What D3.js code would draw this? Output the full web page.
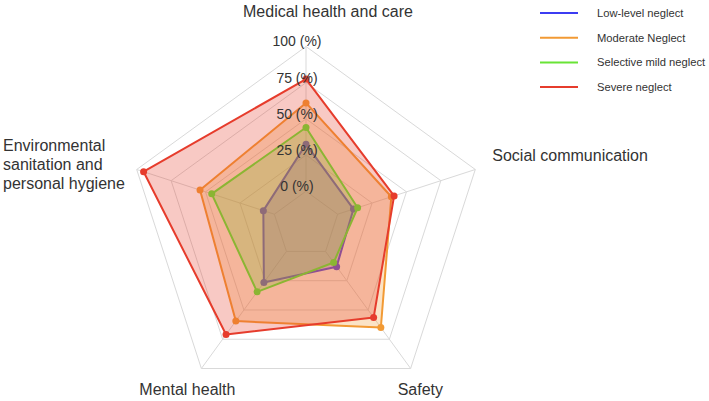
<!DOCTYPE html>
<html>
<head>
<meta charset="utf-8">
<script src="https://cdn.jsdelivr.net/npm/d3@7"></script>
<style>
  body { margin: 0; background: #fff; }
  text { font-family: Arial, "Liberation Sans", sans-serif; }
</style>
</head>
<body>
<svg id="radar" width="709" height="401"></svg>
<script>
var dimensions = ["Medical health and care", "Social communication", "Safety", "Mental health", "Environmental sanitation and personal hygiene"];
var seriesNames = ["Low-level neglect", "Moderate Neglect", "Selective mild neglect", "Severe neglect"];
var lowLevel = [32.5, 11.5, 13, 26.5, 8];
var moderate = [61, 39, 65, 59.5, 54];
var selectiveMild = [44, 14.5, 9.5, 34.5, 45.5];
var severe = [77.5, 41, 56.5, 71, 95];
var tickValues = [0, 25, 50, 75, 100];
var colors = ["#3c3cf2", "#f29a34", "#69e436", "#e63c2c"];

var allSeries = [lowLevel, moderate, selectiveMild, severe];

var svg = d3.select("#radar"),
  cx = 306,
  cy = 224.5,
  g = svg.append("g").attr("transform", "translate(" + cx + "," + cy + ")");

var r = d3.scaleLinear().domain([-23, 100]).range([0, 178]);

function angle(i) {
  return (-90 + i * 72) * Math.PI / 180;
}
function pt(i, v) {
  return [r(v) * Math.cos(angle(i)), r(v) * Math.sin(angle(i))];
}

var ring = d3.line().curve(d3.curveLinearClosed);

// grid rings
g.selectAll(".ring")
  .data(tickValues)
  .enter()
  .append("path")
  .attr("fill", "none")
  .attr("stroke", "#d9d9d9")
  .attr("stroke-width", 1)
  .attr("d", function(t) {
    return ring(dimensions.map(function(d, i) { return pt(i, t); }));
  });

// spokes
g.selectAll(".spoke")
  .data(dimensions)
  .enter()
  .append("line")
  .attr("stroke", "#d9d9d9")
  .attr("stroke-width", 1)
  .attr("x1", function(d, i) { return pt(i, 0)[0]; })
  .attr("y1", function(d, i) { return pt(i, 0)[1]; })
  .attr("x2", function(d, i) { return pt(i, 100)[0]; })
  .attr("y2", function(d, i) { return pt(i, 100)[1]; });

// series
allSeries.forEach(function(values, s) {
  var pts = values.map(function(v, i) { return pt(i, v); });
  g.append("path")
    .attr("d", ring(pts))
    .attr("fill", colors[s])
    .attr("fill-opacity", 0.28)
    .attr("stroke", colors[s])
    .attr("stroke-width", 2)
    .attr("stroke-linejoin", "round");
  g.selectAll(".dot" + s)
    .data(pts)
    .enter()
    .append("circle")
    .attr("r", 3.5)
    .attr("fill", colors[s])
    .attr("cx", function(d) { return d[0]; })
    .attr("cy", function(d) { return d[1]; });
});

// tick labels
g.selectAll(".tick")
  .data(tickValues)
  .enter()
  .append("text")
  .attr("x", -9)
  .attr("y", function(t) { return -r(t) - 5; })
  .attr("dy", "0.35em")
  .attr("text-anchor", "middle")
  .attr("font-size", 14)
  .attr("fill", "#333")
  .text(function(t) { return t + " (%)"; });

// axis names
var vTop = pt(0, 100), vRight = pt(1, 100), vBr = pt(2, 100), vBl = pt(3, 100);
svg.append("text")
  .attr("x", cx + vTop[0] - 63)
  .attr("y", cy + vTop[1] - 30)
  .attr("font-size", 16)
  .attr("fill", "#333")
  .text(dimensions[0]);
svg.append("text")
  .attr("x", cx + vRight[0] + 17)
  .attr("y", cy + vRight[1] - 8)
  .attr("font-size", 16)
  .attr("fill", "#333")
  .text(dimensions[1]);
svg.append("text")
  .attr("x", cx + vBr[0] - 13)
  .attr("y", 395)
  .attr("font-size", 16)
  .attr("fill", "#333")
  .text(dimensions[2]);
svg.append("text")
  .attr("x", cx + vBl[0] - 62)
  .attr("y", 395)
  .attr("font-size", 16)
  .attr("fill", "#333")
  .text(dimensions[3]);
svg.append("text")
  .attr("font-size", 16)
  .attr("fill", "#333")
  .selectAll("tspan")
  .data(["Environmental", "sanitation and", "personal hygiene"])
  .enter()
  .append("tspan")
  .attr("x", 3)
  .attr("y", function(d, i) { return 151 + i * 19; })
  .text(function(d) { return d; });

// legend
var legend = svg.append("g").attr("transform", "translate(540,13)");
var items = legend.selectAll(".item")
  .data(seriesNames)
  .enter()
  .append("g")
  .attr("transform", function(d, i) { return "translate(0," + i * 24.7 + ")"; });
items.append("line")
  .attr("x1", 0)
  .attr("x2", 38)
  .attr("stroke", function(d, i) { return colors[i]; })
  .attr("stroke-width", 2);
items.append("text")
  .attr("x", 57)
  .attr("dy", "0.35em")
  .attr("font-size", 11.2)
  .attr("fill", "#333")
  .text(function(d) { return d; });
</script>
</body>
</html>
